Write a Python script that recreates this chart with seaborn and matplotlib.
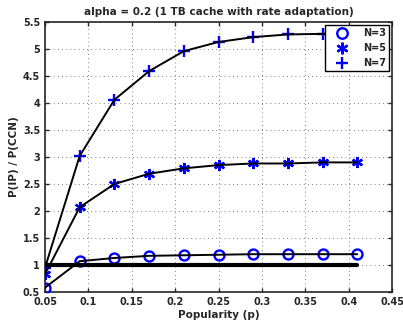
import numpy as np
import pandas as pd
import matplotlib
matplotlib.use("Agg")
import matplotlib.pyplot as plt
import seaborn as sns

popularity = [0.05, 0.09, 0.13, 0.17, 0.21, 0.25, 0.29, 0.33, 0.37, 0.41]
n3 = [0.58, 1.07, 1.13, 1.17, 1.18, 1.19, 1.20, 1.20, 1.20, 1.20]
n5 = [0.83, 2.07, 2.50, 2.69, 2.79, 2.85, 2.88, 2.88, 2.90, 2.90]
n7 = [0.95, 3.02, 4.06, 4.59, 4.96, 5.13, 5.22, 5.27, 5.28, 5.29]
ccn = [1.0] * len(popularity)
series = {"N=3": (n3, "o"), "N=5": (n5, (6, 2, 0)), "N=7": (n7, "+")}

sns.set_style("ticks")
plt.rcParams["font.family"] = ["DejaVu Sans"]
plt.rcParams["font.weight"] = "bold"

fig = plt.figure(figsize=(4.03, 3.26), dpi=100)
ax = fig.add_axes([45/403, 1 - 292/326, (392-45)/403, (292-22)/326])

df = pd.DataFrame({"p": popularity, "ccn": ccn})
sns.lineplot(data=df, x="p", y="ccn", color="black", linewidth=3, ax=ax, legend=False, zorder=4)

handles = []
for name, (vals, m) in series.items():
    d = pd.DataFrame({"p": popularity, "v": vals})
    sns.lineplot(data=d, x="p", y="v", color="black", linewidth=1.4, ax=ax, legend=False, zorder=4)
    ms = 7.2 if m == "o" else 8
    kw = dict(markersize=ms, markeredgewidth=1.7, color="#0000ff", linestyle="none", zorder=3)
    if m == "o":
        kw.update(markerfacecolor="none", markeredgecolor="#0000ff")
    h, = ax.plot(popularity, vals, marker=m, label=name, **kw)
    handles.append(h)

ax.set_xlim(0.05, 0.45)
ax.set_ylim(0.5, 5.5)
xt = np.arange(0.05, 0.451, 0.05)
ax.set_xticks(xt)
ax.set_xticklabels([f"{v:g}" for v in np.round(xt, 2)], fontsize=7, fontweight="bold")
yt = np.arange(0.5, 5.51, 0.5)
ax.set_yticks(yt)
ax.set_yticklabels([f"{v:g}" for v in yt], fontsize=7, fontweight="bold")
ax.tick_params(direction="in", length=3, width=1, top=True, right=True)
ax.grid(True, linestyle=(0, (1, 4)), color="#555555", linewidth=0.6)
for s in ax.spines.values():
    s.set_linewidth(1.2)
    s.set_visible(True)
ax.set_xlabel("Popularity (p)", fontsize=7.5, fontweight="bold", labelpad=2)
ax.set_ylabel("P(IP) / P(CCN)", fontsize=7.5, fontweight="bold", labelpad=3)
ax.set_title("alpha = 0.2 (1 TB cache with rate adaptation)", fontsize=7.5, fontweight="bold", pad=5)

leg = ax.legend(handles=handles, loc="upper right", frameon=True, fancybox=False,
                edgecolor="black", borderaxespad=0.35, handlelength=3.0, labelspacing=0.5,
                borderpad=0.3, handletextpad=0.6, markerscale=1.05,
                prop={"weight": "bold", "size": 7})
leg.get_frame().set_linewidth(1.0)
leg.get_frame().set_alpha(1)
leg.set_zorder(10)

fig.savefig("out.png", dpi=100)
